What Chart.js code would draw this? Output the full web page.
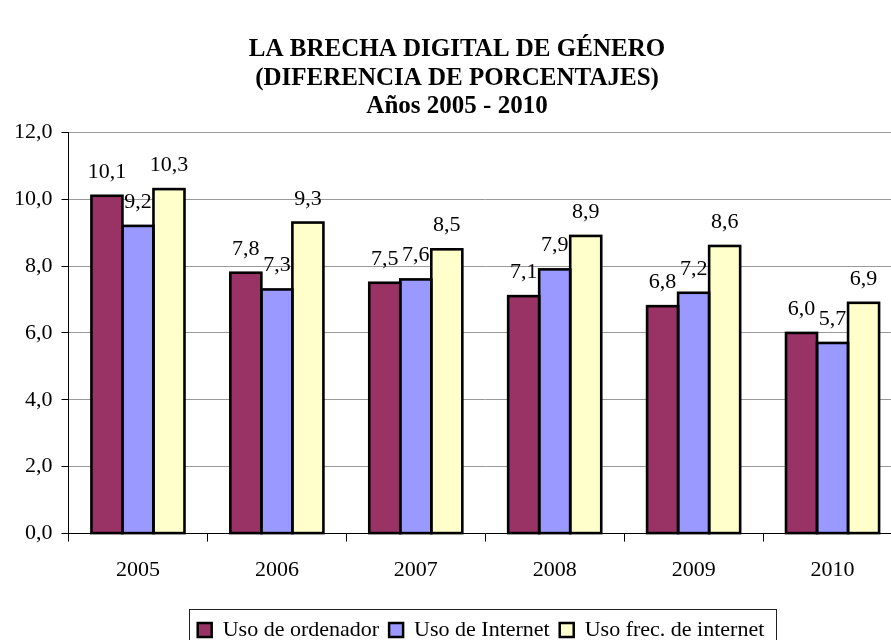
<!DOCTYPE html>
<html>
<head>
<meta charset="utf-8">
<script src="https://cdn.jsdelivr.net/npm/chart.js@4.4.0/dist/chart.umd.min.js"></script>
<style>
  html, body { margin: 0; padding: 0; background: #fff; overflow: hidden; }
  #wrap { width: 913px; height: 660px; }
</style>
</head>
<body>
<div id="wrap"><canvas id="barChart" width="913" height="660"></canvas></div>
<script>
// datos
var years = ['2005', '2006', '2007', '2008', '2009', '2010'];
var usoOrdenador = [10.1, 7.8, 7.5, 7.1, 6.8, 6.0];
var usoInternet = [9.2, 7.3, 7.6, 7.9, 7.2, 5.7];
var usoFrecInternet = [10.3, 9.3, 8.5, 8.9, 8.6, 6.9];
var seriesNames = ['Uso de ordenador', 'Uso de Internet', 'Uso frec. de internet'];
var titleLines = ['LA BRECHA DIGITAL DE GÉNERO', '(DIFERENCIA DE PORCENTAJES)', 'Años 2005 - 2010'];

function coma(v) {
  return Number(v).toFixed(1).replace('.', ',');
}

// borde negro centrado en el contorno de cada barra (compartido entre barras vecinas)
var bordes = {
  id: 'bordes',
  afterDatasetsDraw: function (chart) {
    var ctx = chart.ctx;
    ctx.save();
    ctx.strokeStyle = '#000';
    ctx.lineWidth = 2.6;
    ctx.lineJoin = 'miter';
    chart.data.datasets.forEach(function (ds, i) {
      chart.getDatasetMeta(i).data.forEach(function (bar) {
        var left = bar.x - bar.width / 2;
        ctx.strokeRect(left, bar.y, bar.width, bar.base - bar.y);
      });
    });
    ctx.restore();
  }
};

// valores encima de cada barra
var etiquetas = {
  id: 'etiquetas',
  afterDatasetsDraw: function (chart) {
    var ctx = chart.ctx;
    ctx.save();
    ctx.font = '22px "Liberation Serif", "Times New Roman", serif';
    ctx.fillStyle = '#000';
    ctx.textAlign = 'center';
    ctx.textBaseline = 'alphabetic';
    chart.data.datasets.forEach(function (ds, i) {
      chart.getDatasetMeta(i).data.forEach(function (bar, j) {
        ctx.fillText(coma(ds.data[j]), bar.x, bar.y - 18);
      });
    });
    ctx.restore();
  }
};

// titulo y leyenda desplazados, leyenda con marco
var marcoLeyenda = {
  id: 'marcoLeyenda',
  afterLayout: function (chart) {
    var lg = chart.legend;
    var dx = 481 - (lg.left + lg.right) / 2;
    lg.left += dx;
    lg.right += dx;
    var tb = chart.titleBlock;
    var tx = 457 - (tb.left + tb.right) / 2;
    tb.left += tx;
    tb.right += tx;
  },
  afterDraw: function (chart) {
    var lg = chart.legend;
    var ctx = chart.ctx;
    var pad = lg.options.labels.padding;
    var w = lg.lineWidths[0];
    var x0 = (lg.left + pad + lg.right - w) / 2;
    ctx.save();
    ctx.strokeStyle = '#222';
    ctx.lineWidth = 1;
    ctx.strokeRect(Math.round(x0 - 9) + 0.5, Math.round(lg.top) + 0.5, Math.round(w - pad + 20), 80);
    ctx.restore();
  }
};

document.addEventListener('DOMContentLoaded', function () {
  Chart.defaults.font.family = '"Liberation Serif", "Times New Roman", serif';
  Chart.defaults.font.size = 22;
  Chart.defaults.color = '#000';

  var ctx = document.getElementById('barChart').getContext('2d');
  var colores = ['#993366', '#9999FF', '#FFFFCC'];
  var data = {
    labels: years,
    datasets: [{
      label: seriesNames[0],
      data: usoOrdenador,
      backgroundColor: colores[0],
      borderWidth: 0
    }, {
      label: seriesNames[1],
      data: usoInternet,
      backgroundColor: colores[1],
      borderWidth: 0
    }, {
      label: seriesNames[2],
      data: usoFrecInternet,
      backgroundColor: colores[2],
      borderWidth: 0
    }]
  };
  var barChart = new Chart(ctx, {
    type: 'bar',
    data: data,
    plugins: [bordes, etiquetas, marcoLeyenda],
    options: {
      responsive: false,
      animation: false,
      categoryPercentage: 0.67,
      barPercentage: 1.0,
      layout: { padding: { top: 35, left: 5, right: 11, bottom: 9 } },
      plugins: {
        title: {
          display: true,
          text: titleLines,
          color: '#000',
          font: { size: 25, weight: 'bold', lineHeight: 1.15 },
          padding: { top: 0, bottom: 11 }
        },
        legend: {
          position: 'bottom',
          labels: {
            boxWidth: 14,
            boxHeight: 14,
            padding: 10,
            font: { size: 22 },
            generateLabels: function (chart) {
              var items = Chart.defaults.plugins.legend.labels.generateLabels(chart);
              items.forEach(function (it) {
                it.strokeStyle = '#000';
                it.lineWidth = 2.5;
              });
              return items;
            }
          }
        },
        tooltip: { enabled: false }
      },
      scales: {
        x: {
          grid: { drawOnChartArea: false, drawTicks: true, tickLength: 8, color: '#000', tickColor: '#000' },
          border: { color: '#000', width: 1 },
          ticks: { padding: 15, font: { size: 22 } },
          afterFit: function (scale) { scale.height += 11; }
        },
        y: {
          min: 0,
          max: 12,
          ticks: { stepSize: 2, padding: 9, font: { size: 22 }, callback: function (v) { return coma(v); } },
          grid: { color: '#999', tickColor: '#000', tickLength: 7 },
          border: { color: '#000', width: 1 }
        }
      }
    }
  });
});
</script>
</body>
</html>
